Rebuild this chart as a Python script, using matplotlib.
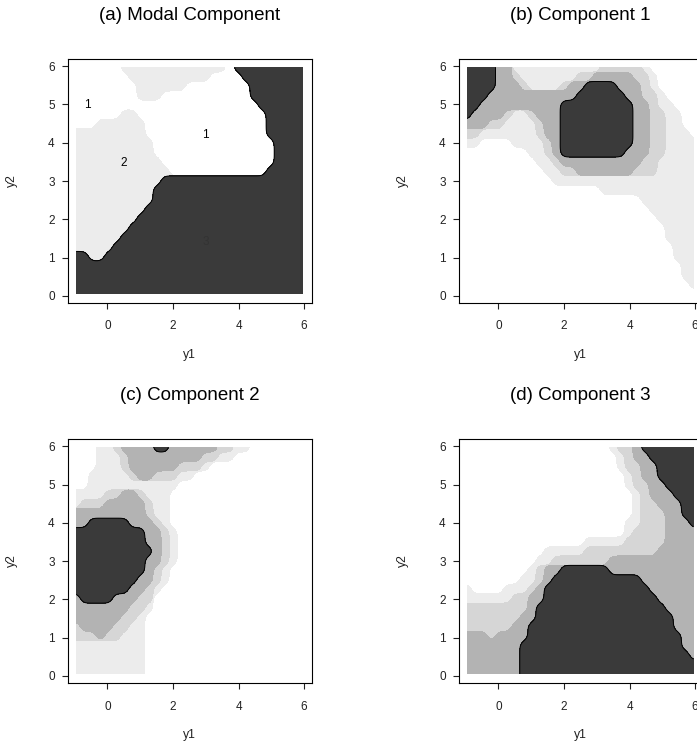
import numpy as np
import matplotlib.pyplot as plt

plt.rcParams['font.family'] = ['Liberation Sans', 'DejaVu Sans']

# shade level of each grid cell.
# rows run from y2 = 6 (top) down to y2 = 0, columns from y1 = -1 to 6 (step 0.25)
modal_rows = [  # 0 = comp 1 (white), 1 = comp 2, 2 = comp 3
    "00000011111111111110222222222",
    "00000001111111111000022222222",
    "00000000111111000000002222222",
    "00000000111000000000002222222",
    "00000000000000000000000222222",
    "00000011000000000000000022222",
    "00011111100000000000000022222",
    "11111111100000000000000022222",
    "11111111110000000000000002222",
    "11111111110000000000000002222",
    "11111111111000000000000002222",
    "11111111111100000000000022222",
    "11111111111222222222222222222",
    "11111111112222222222222222222",
    "11111111112222222222222222222",
    "11111111122222222222222222222",
    "11111111222222222222222222222",
    "11111112222222222222222222222",
    "11111122222222222222222222222",
    "11111222222222222222222222222",
    "22112222222222222222222222222",
    "22222222222222222222222222222",
    "22222222222222222222222222222",
    "22222222222222222222222222222",
    "22222222222222222222222222222",
]

comp1_rows = [
    "44443311111111111222221000000",
    "44443321111111223333322100000",
    "44443332111123344443332100000",
    "44433333333333444444332210000",
    "44333333333344444444433211000",
    "43333211233344444444433221100",
    "33322111123344444444433221100",
    "22111111123344444444433221110",
    "11000011112344444444433221111",
    "00000000112344444444333221111",
    "00000000011233333333332211111",
    "00000000001122333333322211111",
    "00000000000111111111111111111",
    "00000000000000000111111111111",
    "00000000000000000000001111111",
    "00000000000000000000000111111",
    "00000000000000000000000011111",
    "00000000000000000000000001111",
    "00000000000000000000000001111",
    "00000000000000000000000000111",
    "00000000000000000000000000111",
    "00000000000000000000000000011",
    "00000000000000000000000000011",
    "00000000000000000000000000001",
    "00000000000000000000000000000",
]

comp2_rows = [
    "00011233334433333322110000000",
    "00011123333333332211000000000",
    "00011123333332221000000000000",
    "00111112332221100000000000000",
    "00111111111110000000000000000",
    "11112233211100000000000000000",
    "12223333321100000000000000000",
    "33333333321100000000000000000",
    "33444443332100000000000000000",
    "44444444433210000000000000000",
    "44444444433210000000000000000",
    "44444444443210000000000000000",
    "44444444433210000000000000000",
    "44444444432100000000000000000",
    "44444444332100000000000000000",
    "44444443321000000000000000000",
    "34444333220000000000000000000",
    "33333332210000000000000000000",
    "33333322100000000000000000000",
    "23333221100000000000000000000",
    "22232211100000000000000000000",
    "11111111100000000000000000000",
    "11111111100000000000000000000",
    "11111111100000000000000000000",
    "11111111100000000000000000000",
]

comp3_rows = [
    "00000000000000000012234444444",
    "00000000000000000001233444444",
    "00000000000000000001223344444",
    "00000000000000000000123344444",
    "00000000000000000000122334444",
    "00000000000000000000012333444",
    "00000000000000000000012233344",
    "00000000000000000000012223344",
    "00000000000000000000112223334",
    "00000000000000000000122223333",
    "00000000000000011111222223333",
    "00000000001111122222222233333",
    "00000000011222222233333333333",
    "00000000123344444433333333333",
    "00000001123444444444443333333",
    "10000111234444444444444333333",
    "11111122334444444444444433333",
    "22222222344444444444444443333",
    "22222223344444444444444444333",
    "22222233444444444444444444333",
    "33323333444444444444444444433",
    "33333334444444444444444444433",
    "33333334444444444444444444443",
    "33333334444444444444444444444",
    "33333334444444444444444444444",
]

titles = ["(a) Modal Component", "(b) Component 1", "(c) Component 2", "(d) Component 3"]

modal_labels = ["1", "1", "2", "3"]
modal_label_x = [-0.61, 3.0, 0.49, 3.0]
modal_label_y = [4.98, 4.2, 3.48, 1.41]

y1_grid = np.linspace(-0.95, 5.95, 29)
y2_grid = np.linspace(0.05, 5.97, 25)

shades = ["#ececec", "#d6d6d6", "#b3b3b3", "#3a3a3a"]
modal_shades = ["#ececec", "#3a3a3a"]

FINE = 8  # sub-cells per grid step, only used to round off the cell staircase


def to_grid(rows):
    for r in rows:
        assert len(r) == 29, r
    g = np.array([[int(c) for c in r] for r in rows])
    return g[::-1]


def soften(a, s):
    r = int(3 * s)
    k = np.exp(-0.5 * (np.arange(-r, r + 1) / s) ** 2)
    k /= k.sum()
    a = np.pad(a, r, mode="edge")
    a = np.apply_along_axis(lambda v: np.convolve(v, k, mode="valid"), 0, a)
    a = np.apply_along_axis(lambda v: np.convolve(v, k, mode="valid"), 1, a)
    return a


fx = np.linspace(y1_grid[0], y1_grid[-1], (len(y1_grid) - 1) * FINE + 1)
fy = np.linspace(y2_grid[0], y2_grid[-1], (len(y2_grid) - 1) * FINE + 1)


def spread(n):
    t = np.linspace(0, n - 1, (n - 1) * FINE + 1)
    i0 = np.minimum(np.floor(t).astype(int), n - 2)
    return i0, t - i0


jx, wx = spread(len(y1_grid))
jy, wy = spread(len(y2_grid))


def region(grid, k):
    ind = (grid >= k).astype(float)
    ind = ind[:, jx] * (1 - wx) + ind[:, jx + 1] * wx
    ind = ind[jy, :] * (1 - wy)[:, None] + ind[jy + 1, :] * wy[:, None]
    return soften(ind, 0.35 * FINE)


def draw(ax, rows, colors, title):
    grid = to_grid(rows)
    for k, col in enumerate(colors, start=1):
        ax.contourf(fx, fy, region(grid, k), levels=[0.5, 1.5], colors=[col])
    ax.contour(fx, fy, region(grid, len(colors)), levels=[0.5],
               colors="black", linewidths=0.7)

    ax.set_xlim(-1.21, 6.23)
    ax.set_ylim(-0.18, 6.18)
    ax.set_xticks([0, 2, 4, 6])
    ax.set_yticks(range(7))
    ax.tick_params(direction="out", length=4.3, width=0.8, labelsize=8.5, colors="#222222")
    ax.tick_params(axis="x", pad=8.5)
    ax.tick_params(axis="y", pad=5.0)
    for s in ax.spines.values():
        s.set_linewidth(0.8)

    ax.set_xlabel("y1", fontsize=8.8, color="#222222")
    ax.xaxis.set_label_coords(0.5, -0.215)
    ax.xaxis.label.set_verticalalignment("center")
    ax.set_ylabel("y2", fontsize=8.8, color="#222222")
    ax.yaxis.set_label_coords(-0.23, 0.5)
    ax.yaxis.label.set_verticalalignment("center")
    ax.set_title(title, fontsize=13.5, y=1.182, pad=0, va="center")


fig = plt.figure(figsize=(6.97, 7.5), dpi=100)
w, h = 0.3501, 0.3245
pos = [(0.0971, 0.5964), (0.6581, 0.5964), (0.0971, 0.0897), (0.6581, 0.0897)]
panels = [(modal_rows, modal_shades), (comp1_rows, shades),
          (comp2_rows, shades), (comp3_rows, shades)]

for (l, b), (rows, cols), title in zip(pos, panels, titles):
    ax = fig.add_axes([l, b, w, h])
    draw(ax, rows, cols, title)
    if rows is modal_rows:
        for t, x, y in zip(modal_labels, modal_label_x, modal_label_y):
            ax.text(x, y, t, fontsize=8.5, ha="center", va="center",
                    color="#333333" if t == "3" else "black")

fig.savefig("out.png", dpi=100)
